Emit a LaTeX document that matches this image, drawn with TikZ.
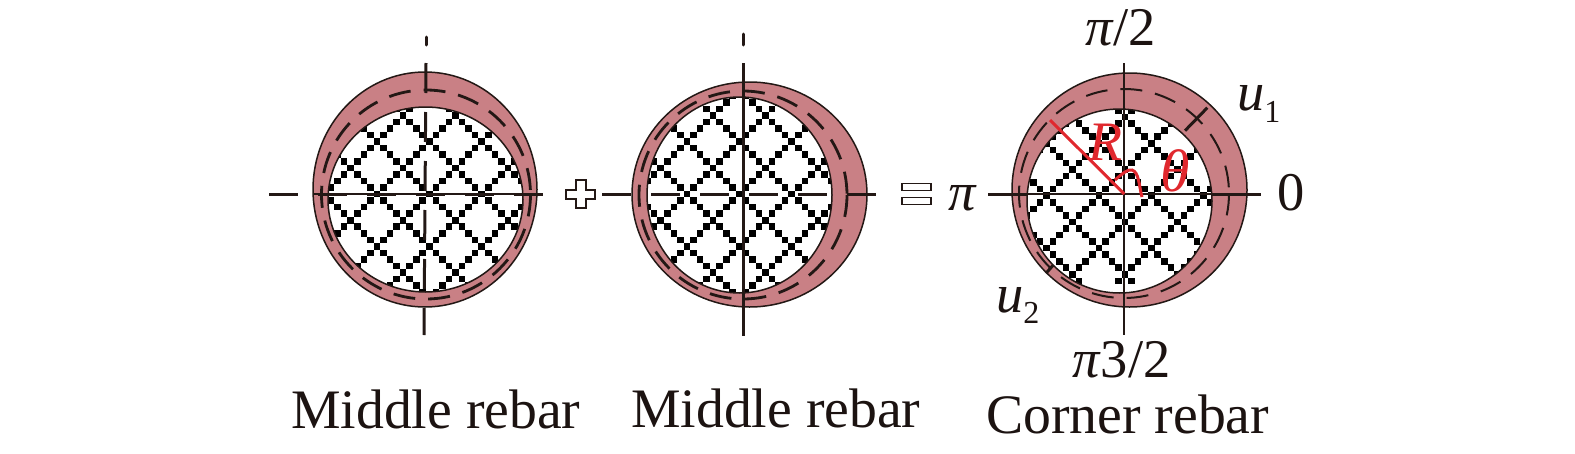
\documentclass[tikz,border=0pt]{standalone}
\usepackage{fontspec}
\setmainfont{Liberation Serif}
\definecolor{ringpink}{HTML}{C98085}
\definecolor{inkdark}{HTML}{231815}
\definecolor{rebarred}{HTML}{E0282E}
\tikzset{
  ringshape/.style={fill=ringpink,draw=inkdark,line width=1.5pt,even odd rule},
  midline/.style={draw=inkdark,line width=2.8pt,dash pattern=on 22pt off 13pt},
  axisline/.style={draw=inkdark,line width=3pt},
  thinaxis/.style={draw=inkdark,line width=1.2pt},
  signshape/.style={draw=inkdark,fill=white,line width=1.2pt},
  redline/.style={draw=rebarred,line width=3pt},
  bigtext/.style={font=\fontsize{55.7}{60}\selectfont,text=inkdark!80!black,inner sep=0pt,anchor=base west},
  symtext/.style={font=\fontsize{54.5}{60}\selectfont,text=inkdark!80!black,inner sep=0pt,anchor=base west},
}
% cx cy rx ry of the hole, then the lattice origin
\newcommand{\rebarlattice}[6]{
  \begin{scope}
    \clip (#1,#2) ellipse (#3 and #4);
    \foreach \i in {-17,...,17}
      \foreach \j in {-17,...,17} {
        \pgfmathtruncatemacro{\keep}{(Mod(\i+\j,8)==0 || Mod(\i-\j,8)==0) ? 1 : 0}
        \ifnum\keep=1
          \fill[black] ({#5+\i*6.55-3.3},{#6+\j*6.55-3.3}) rectangle +(6.6,6.6);
        \fi
      }
  \end{scope}
}
\begin{document}
\begin{tikzpicture}[x=1pt,y=-1pt]
  \useasboundingbox (0,0) rectangle (1575,453);
  %primo cerchio
  \rebarlattice{425.5}{199.5}{97.5}{92.5}{429.3}{194}
  \path[ringshape] (425,189.5) ellipse (112 and 117.5) (425.5,199.5) ellipse (97.5 and 92.5);
  \draw[midline] (426,194.5) ellipse (104.5 and 104.5);
  \draw[thinaxis] (313,194) -- (537,194);
  \draw[axisline,dash pattern=on 29pt off 20pt] (269,194) -- (543,194);
  \draw[axisline,line cap=round] (426.2,37) -- (426.2,45);
  \draw[axisline,dash pattern=on 30pt off 19pt] (426,63) -- (424,335);
  %secondo cerchio
  \rebarlattice{739.5}{195}{92.5}{98}{739.3}{194}
  \path[ringshape] (749.5,194.5) ellipse (117.5 and 112.5) (739.5,195) ellipse (92.5 and 98);
  \draw[midline] (743,195) ellipse (104 and 104);
  \draw[axisline,dash pattern=on 29pt off 20pt] (602,194) -- (876,194);
  \draw[axisline,line cap=round] (743.3,34) -- (743.3,45);
  \draw[axisline] (743.3,63) -- (743.3,336);
  %terzo cerchio
  \rebarlattice{1119.5}{201}{92.5}{92}{1125}{169.5}
  \path[ringshape] (1129.5,190) ellipse (117.5 and 117) (1119.5,201) ellipse (92.5 and 92);
  \draw[midline,line width=2pt] (1124,193.5) ellipse (105 and 104.5);
  \draw[axisline] (988,194) -- (1027,194);
  \draw[axisline] (1212,194) -- (1261,194);
  \draw[thinaxis] (1027,194) -- (1212,194);
  \draw[axisline,line width=2.4pt] (1123.8,63) -- (1123.8,335);
  \draw[axisline] (1185,130.7) -- (1207.3,107.7);
  \draw[axisline] (1046,273.3) -- (1053.3,265);
  %raggio e angolo
  \draw[redline] (1050,120) -- (1124.3,194);
  \draw[redline] (1115,180) .. controls (1123,173) and (1128,169) .. (1132,170) .. controls (1139,172) and (1139,186) .. (1142,197);
  \node[bigtext,text=rebarred] (lblR) at (1088,160) {\textit{R}};
  \node[bigtext,text=rebarred,font=\fontsize{60}{64}\selectfont] (lbltheta) at (1160,191) {\textit{θ}};
  %segni
  \path[signshape] (576,180) -- (586,180) -- (586,190) -- (595,190) -- (595,199) -- (586,199) -- (586,208) -- (576,208) -- (576,199) -- (566,199) -- (566,190) -- (576,190) -- cycle;
  \path[signshape] (902,183.5) rectangle (931,190.5);
  \path[signshape] (902,197.5) rectangle (931,204.5);
  %etichette
  \node[symtext] (lbltop) at (1085,45) {\textit{π}/2};
  \node[symtext] (lblbot) at (1072,377) {\textit{π}3/2};
  \node[symtext] (lblleft) at (948,210) {\textit{π}};
  \node[symtext] (lblright) at (1277,210) {0};
  \node[symtext] (lblua) at (1237,110) {\textit{u}\raisebox{-12pt}{\fontsize{32}{36}\selectfont 1}};
  \node[symtext] (lblub) at (996,312) {\textit{u}\raisebox{-11pt}{\fontsize{32}{36}\selectfont 2}};
  \node[bigtext] (namea) at (291,428) {Middle rebar};
  \node[bigtext] (nameb) at (631,427) {Middle rebar};
  \node[bigtext] (namec) at (986,433) {Corner rebar};
\end{tikzpicture}
\end{document}
